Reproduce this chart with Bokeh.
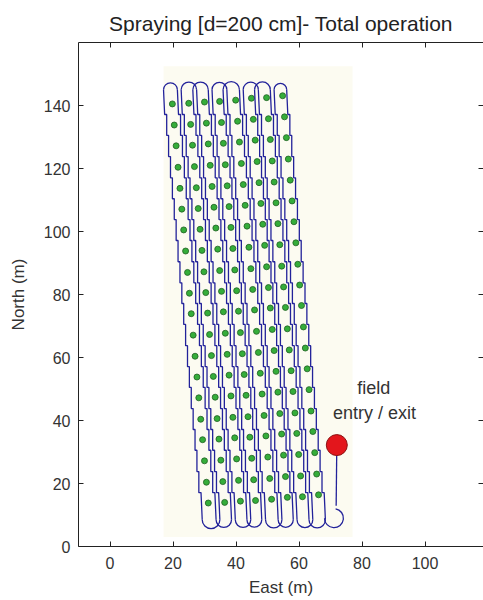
import numpy as np
from bokeh.plotting import figure
from bokeh.models import LinearAxis, Range1d, FixedTicker
from bokeh.core.properties import value
from bokeh.embed import file_html
from bokeh.resources import INLINE

# ---------------- data ----------------
title_text = "Spraying [d=200 cm]- Total operation"
x_label = "East (m)"
y_label = "North (m)"
x_ticks = [0, 20, 40, 60, 80, 100]
y_ticks = [0, 20, 40, 60, 80, 100, 120, 140]

# plants: north (m) of each row in the westmost column, bottom to top
plant_row_north = [13.8, 20.4, 27.2, 33.9, 40.4, 47.2, 53.8, 60.4, 67.1, 73.9,
                   80.4, 87.0, 93.8, 100.5, 107.1, 113.7, 120.4, 127.2, 133.8, 140.5]
# plants: east (m) of each column on the bottom row, and north offset of each column
plant_col_east = [31.2, 36.4, 41.4, 46.2, 51.3, 56.3, 61.1, 66.2]
plant_col_rise = [0.0, 0.2, 0.6, 0.8, 1.2, 1.8, 2.0, 2.6]
field_lean = -0.09  # east drift per metre north (skewed field)

# vehicle lanes: east (m) at north 13.8 m
lane_east = [28.8, 33.8, 38.7, 43.6, 48.3, 53.5, 58.3, 63.3, 67.9]
lane_ref_north = 13.8
# passes in driving order: lane index and side offset within the lane (m)
pass_lane = [8, 7, 6, 5, 4, 3, 2, 1, 0, 1, 2, 3, 4, 5, 6, 7]
pass_side = [0.0, 0.6, 0.6, 0.6, 0.6, 0.6, 0.6, 0.6, 0.0,
             -0.6, -0.6, -0.6, -0.6, -0.6, -0.6, -0.6]
pass_north_bottom = 8.5
pass_north_top = 145.0

# field entry / exit
entry_east = [72.0, 71.8]
entry_north = [32.2, 12.9]
loop_east, loop_north, loop_radius = 71.1, 9.0, 3.0
gate_east, gate_north = 72.0, 32.2
note_east = [83.7, 84.0]
note_north = [50.3, 42.5]
note_text = ["field", "entry / exit"]

# background of the field photo
field_box = dict(left=17.0, right=77.0, bottom=3.0, top=152.5)

# ---------------- derived geometry ----------------
def lane_x(i, north):
    return lane_east[pass_lane[i]] + pass_side[i] + field_lean * (north - lane_ref_north)

# GPS trace is stair-stepped: straight runs between plant rows, short jogs at each row
step_north = [pass_north_bottom] + [(a + b) / 2 for a, b in zip(plant_row_north[:-1], plant_row_north[1:])] + [pass_north_top]

pass_xs, pass_ys = [], []
for i in range(len(pass_lane)):
    xs, ys = [], []
    for k in range(len(step_north) - 1):
        n0, n1 = step_north[k], step_north[k + 1]
        xk = lane_x(i, (n0 + n1) / 2)
        xs += [xk, xk]
        ys += [n0, n1]
    xs[0] = lane_x(i, pass_north_bottom)
    xs[-1] = lane_x(i, pass_north_top)
    pass_xs.append(xs)
    pass_ys.append(ys)

top_x, top_y, top_r = [], [], []
bot_x, bot_y, bot_r = [], [], []
for i in range(len(pass_lane) - 1):
    if i % 2 == 0:
        a, b = lane_x(i, pass_north_top), lane_x(i + 1, pass_north_top)
        top_x.append((a + b) / 2); top_y.append(pass_north_top); top_r.append(abs(a - b) / 2)
    else:
        a, b = lane_x(i, pass_north_bottom), lane_x(i + 1, pass_north_bottom)
        bot_x.append((a + b) / 2); bot_y.append(pass_north_bottom); bot_r.append(abs(a - b) / 2)
# last pass joins the east lane at the bottom
a, b = lane_x(len(pass_lane) - 1, pass_north_bottom), lane_x(0, pass_north_bottom)
bot_x.append((a + b) / 2); bot_y.append(pass_north_bottom); bot_r.append(abs(a - b) / 2)

dots_x, dots_y = [], []
for c, ce in enumerate(plant_col_east):
    for rn in plant_row_north:
        dots_x.append(ce + field_lean * (rn - plant_row_north[0]))
        dots_y.append(rn + plant_col_rise[c])

# ---------------- figure ----------------
FONT = "Liberation Sans"
TXT = "#333333"
LINE = "#22229a"

p = figure(width=483, height=600, output_backend="svg", toolbar_location=None,
           x_range=Range1d(-10, 118.57), y_range=Range1d(0, 160),
           min_border_left=78, min_border_right=0, min_border_top=42, min_border_bottom=54,
           title=title_text)
p.outline_line_color = None
p.xgrid.visible = False
p.ygrid.visible = False
p.background_fill_color = "white"
p.border_fill_color = "white"

p.title.text_font = FONT
p.title.text_font_size = "21px"
p.title.text_font_style = "normal"
p.title.text_color = "#222222"
p.title.align = "center"
p.title.standoff = 16

for ax, ticks, lab in ((p.xaxis[0], x_ticks, x_label), (p.yaxis[0], y_ticks, y_label)):
    ax.ticker = FixedTicker(ticks=ticks)
    ax.major_tick_in = 5
    ax.major_tick_out = 0
    ax.minor_tick_line_color = None
    ax.axis_line_color = "#222222"
    ax.major_tick_line_color = "#222222"
    ax.major_label_text_font = FONT
    ax.major_label_text_font_size = "16px"
    ax.major_label_text_color = TXT
    ax.axis_label = lab
    ax.axis_label_text_font = FONT
    ax.axis_label_text_font_size = "17px"
    ax.axis_label_text_font_style = "normal"
    ax.axis_label_text_color = TXT
p.xaxis.major_label_standoff = 10
p.xaxis.axis_label_standoff = 6
p.yaxis.major_label_standoff = 8
p.yaxis.axis_label_standoff = 13

# frame ticks on the top and right sides (no labels there)
top_ax = LinearAxis(ticker=FixedTicker(ticks=x_ticks), major_tick_in=5, major_tick_out=0,
                    minor_tick_line_color=None, major_label_text_font_size="1px",
                    major_label_text_color=None, major_label_standoff=0,
                    axis_line_color="#222222", major_tick_line_color="#222222")
p.add_layout(top_ax, "above")
right_ax = LinearAxis(ticker=FixedTicker(ticks=y_ticks), major_tick_in=5, major_tick_out=0,
                      minor_tick_line_color=None, major_label_text_font_size="1px",
                      major_label_text_color=None, major_label_standoff=0,
                      axis_line_color=None, major_tick_line_color="#222222")
p.add_layout(right_ax, "right")

# field background
p.quad(**{k: [v] for k, v in field_box.items()}, fill_color="#fcfbf1", line_color=None)

# plants
p.scatter(dots_x, dots_y, size=6, fill_color="#35ad3a", line_color="#1f5f22", line_width=0.8)

# path
p.multi_line(pass_xs, pass_ys, line_color=LINE, line_width=1.3)
p.arc(x=top_x, y=top_y, radius=top_r, start_angle=0, end_angle=np.pi,
      line_color=LINE, line_width=1.3)
p.arc(x=bot_x, y=bot_y, radius=bot_r, start_angle=np.pi, end_angle=2 * np.pi,
      line_color=LINE, line_width=1.3)
p.arc(x=[loop_east], y=[loop_north], radius=[loop_radius], start_angle=np.pi,
      end_angle=np.radians(80), direction="anticlock", line_color=LINE, line_width=1.3)
p.line(entry_east, entry_north, line_color=LINE, line_width=1.3)

# gate
p.scatter([gate_east], [gate_north], size=21, fill_color="#e3161c", line_color="#8c1010", line_width=1)

p.text(x=note_east, y=note_north, text=note_text, text_font=value(FONT),
       text_font_size="18px", text_color=TXT, text_align="center", text_baseline="middle")

open("out.html", "w").write(file_html(p, INLINE))
